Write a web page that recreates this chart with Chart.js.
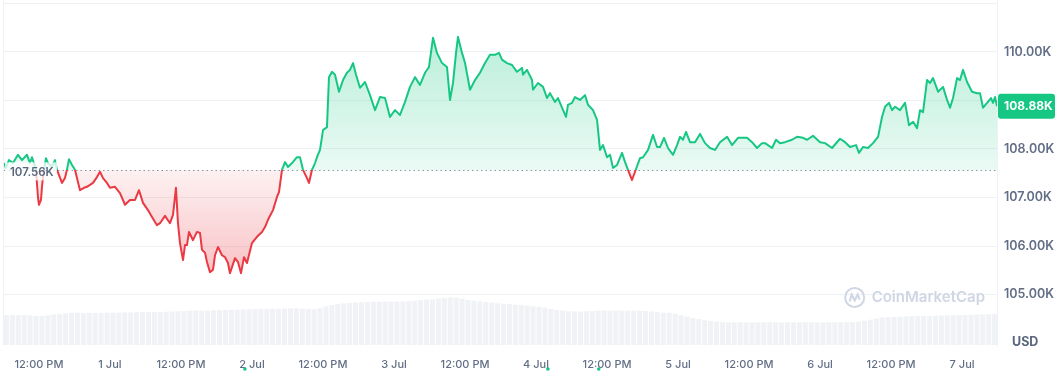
<!DOCTYPE html>
<html>
<head>
<meta charset="utf-8">
<script src="https://cdn.jsdelivr.net/npm/chart.js@4.4.1/dist/chart.umd.min.js"></script>
<style>
    html, body { margin: 0; padding: 0; background: #fff; }
    #wrap { width: 1063px; height: 387px; position: relative; }
</style>
</head>
<body>
<div id="wrap"><canvas id="priceChart"></canvas></div>
<script>
// hours counted from 1 Jul 00:00
const priceHours = [
    -17.91, -17.58, -17.07, -16.39, -15.55, -14.87, -14.03, -13.52, -13.18, -12.51,
    -12.17, -12.00, -11.66, -11.49, -11.32, -10.82, -10.48, -9.80, -9.30, -8.96,
    -8.11, -7.61, -7.27, -6.93, -6.42, -5.92, -5.07, -4.39, -3.89, -3.38,
    -2.87, -2.20, -1.69, -1.18, -0.51, 0, 0.85, 1.69, 2.54, 3.38,
    4.23, 4.90, 5.58, 6.42, 7.10, 7.94, 8.45, 9.30, 10.14, 10.65,
    11.15, 11.49, 11.83, 12.34, 12.68, 13.01, 13.35, 14.03, 14.70, 15.21,
    15.55, 16.06, 16.39, 16.90, 17.41, 17.75, 18.25, 18.93, 19.44, 19.94,
    20.28, 21.13, 21.63, 22.14, 22.65, 23.15, 24.00, 24.84, 25.69, 26.20,
    26.70, 27.55, 28.22, 28.56, 29.07, 29.58, 30.08, 30.76, 31.60, 32.11,
    32.62, 33.29, 33.63, 34.14, 34.65, 34.98, 35.49, 36.00, 36.67, 37.01,
    37.52, 38.03, 38.70, 39.38, 40.05, 40.56, 41.07, 41.58, 42.25, 43.10,
    43.94, 44.79, 45.63, 46.48, 47.32, 48.17, 49.01, 49.86, 50.70, 51.55,
    52.39, 53.24, 53.91, 54.59, 55.26, 56.11, 56.95, 57.46, 57.97, 58.48,
    58.81, 59.49, 60.00, 60.84, 61.69, 62.53, 63.38, 64.22, 65.07, 65.74,
    66.25, 67.09, 67.94, 68.78, 69.63, 69.80, 70.47, 71.32, 71.49, 72.33,
    73.18, 73.85, 74.36, 75.21, 75.71, 76.39, 77.07, 77.40, 78.08, 78.59,
    79.43, 80.28, 80.78, 81.63, 82.31, 82.81, 83.32, 84.00, 84.50, 85.01,
    85.69, 86.53, 87.04, 87.54, 88.22, 88.73, 89.57, 90.08, 90.93, 91.77,
    92.45, 92.95, 93.63, 94.30, 95.15, 95.83, 96.33, 96.84, 97.35, 98.02,
    98.87, 99.71, 100.56, 101.40, 102.25, 103.09, 104.28, 105.12, 106.13, 107.66,
    108.50, 109.35, 110.19, 110.70, 111.88, 112.56, 113.23, 114.08, 115.26, 116.11,
    117.12, 117.80, 118.81, 120.00, 120.84, 122.02, 123.37, 124.22, 125.06, 126.08,
    126.58, 127.26, 128.10, 128.95, 129.80, 130.47, 130.98, 131.65, 132.16, 132.67,
    133.51, 134.36, 135.03, 135.71, 136.39, 136.89, 137.40, 138.08, 138.58, 139.09,
    139.94, 140.78, 141.46, 141.96, 142.47, 143.15, 143.65, 144.16, 144.84, 145.68,
    146.53, 147.03, 147.54, 148.22, 148.89, 149.23, 149.57, 149.90
];

// BTC price, thousands of USD
const prices = [
    107.71, 107.61, 107.77, 107.71, 107.88, 107.77, 107.88, 107.71, 107.83, 107.57,
    107.01, 106.85, 106.95, 107.22, 107.42, 107.81, 107.71, 107.63, 107.77, 107.57,
    107.30, 107.40, 107.57, 107.79, 107.67, 107.57, 107.15, 107.20, 107.22, 107.26,
    107.30, 107.42, 107.53, 107.40, 107.30, 107.20, 107.22, 107.09, 106.85, 106.95,
    106.95, 107.15, 106.89, 106.74, 106.60, 106.43, 106.47, 106.62, 106.47, 106.64,
    107.20, 106.47, 106.06, 105.71, 106.02, 106.02, 106.29, 106.12, 106.29, 106.27,
    105.92, 105.86, 105.67, 105.46, 105.51, 105.81, 105.98, 105.81, 105.77, 105.65,
    105.44, 105.75, 105.67, 105.44, 105.77, 105.65, 106.06, 106.19, 106.29, 106.39,
    106.54, 106.74, 107.01, 107.11, 107.57, 107.73, 107.63, 107.71, 107.83, 107.83,
    107.57, 107.40, 107.30, 107.57, 107.71, 107.83, 107.98, 108.39, 108.45, 109.48,
    109.59, 109.53, 109.18, 109.42, 109.57, 109.63, 109.77, 109.53, 109.26, 109.38,
    109.11, 108.80, 109.07, 109.05, 108.66, 108.80, 108.70, 108.97, 109.28, 109.48,
    109.32, 109.57, 109.69, 110.29, 109.98, 109.77, 109.69, 109.01, 109.36, 109.98,
    110.31, 109.98, 109.77, 109.22, 109.42, 109.57, 109.77, 109.94, 109.94, 109.98,
    109.84, 109.77, 109.73, 109.59, 109.67, 109.53, 109.63, 109.42, 109.22, 109.36,
    109.28, 109.05, 109.15, 108.97, 109.05, 108.85, 108.66, 108.91, 108.95, 109.07,
    109.01, 109.11, 108.91, 108.80, 108.60, 107.98, 108.08, 107.83, 107.88, 107.61,
    107.67, 107.92, 107.73, 107.57, 107.36, 107.53, 107.81, 107.83, 107.98, 108.29,
    108.04, 108.04, 108.23, 108.02, 107.88, 108.08, 108.25, 108.19, 108.35, 108.14,
    108.14, 108.31, 108.12, 108.02, 107.98, 108.14, 108.25, 108.08, 108.23, 108.23,
    108.14, 108.02, 108.12, 108.12, 108.02, 108.19, 108.12, 108.14, 108.19, 108.25,
    108.23, 108.19, 108.27, 108.14, 108.12, 108.02, 108.21, 108.14, 108.04, 108.08,
    107.92, 108.04, 108.02, 108.12, 108.25, 108.66, 108.87, 108.95, 108.80, 108.87,
    108.80, 108.95, 108.49, 108.56, 108.43, 108.80, 108.76, 109.42, 109.36, 109.46,
    109.18, 109.28, 109.01, 108.85, 109.05, 109.46, 109.42, 109.63, 109.38, 109.18,
    109.15, 109.15, 108.85, 108.95, 109.05, 108.95, 109.07, 108.88
];

const openPrice = 107.56;

// hourly volume bars (billions USD), first bar at -17.5 h
const volumeStartHour = -17.5;
const volumes = [
    20.9, 21.0, 20.8, 20.9, 20.6, 20.3, 20.2, 20.6, 21.2, 21.5,
    22.0, 22.4, 22.5, 22.3, 22.4, 22.3, 22.4, 22.5, 22.6, 22.5,
    22.7, 22.6, 22.8, 22.9, 23.0, 22.9, 23.0, 23.2, 23.4, 23.5,
    23.6, 23.8, 23.9, 23.8, 24.0, 24.1, 24.2, 24.3, 24.4, 24.5,
    24.7, 24.8, 25.0, 24.9, 25.1, 25.2, 25.3, 25.4, 25.5, 25.5,
    25.3, 24.9, 24.8, 25.6, 26.8, 27.8, 28.4, 29.0, 29.3, 29.6,
    29.8, 30.0, 30.1, 30.1, 30.2, 30.1, 30.2, 30.3, 30.5, 30.8,
    31.2, 31.6, 31.8, 32.3, 32.8, 33.2, 32.9, 32.2, 31.3, 30.8,
    30.3, 29.9, 29.5, 29.0, 28.7, 28.4, 28.0, 27.8, 27.4, 27.0,
    26.6, 26.0, 25.1, 24.3, 23.9, 23.5, 23.3, 23.2, 23.5, 23.7,
    23.9, 24.0, 23.9, 24.0, 23.9, 23.9, 23.8, 23.9, 23.7, 23.4,
    23.0, 22.6, 22.4, 21.8, 20.8, 19.8, 18.9, 18.0, 17.2, 16.6,
    16.2, 15.9, 15.8, 15.8, 15.8, 15.8, 15.7, 15.8, 15.8, 15.9,
    15.8, 15.7, 15.8, 15.8, 15.8, 15.9, 15.8, 15.8, 15.7, 15.8,
    15.8, 15.9, 15.8, 16.0, 16.2, 16.9, 17.6, 18.4, 19.1, 19.3,
    19.5, 19.7, 19.9, 20.0, 20.1, 20.2, 20.2, 20.3, 20.5, 20.6,
    20.7, 20.9, 20.9, 21.0, 21.2, 21.3, 21.4, 21.5, 21.6
];

const xTickHours = [-12, 0, 12, 24, 36, 48, 60, 72, 84, 96, 108, 120, 132, 144];
const xTickLabels = ['12:00 PM', '1 Jul', '12:00 PM', '2 Jul', '12:00 PM', '3 Jul', '12:00 PM',
    '4 Jul', '12:00 PM', '5 Jul', '12:00 PM', '6 Jul', '12:00 PM', '7 Jul'];
const yTicks = [105, 106, 107, 108, 109, 110, 111];

// small markers under the time axis
const eventHours = [22.8, 74.0, 82.6];

const GREEN = '#16c784';
const RED = '#ea3943';
const TEXT = '#616e85';

Chart.defaults.font.family = "Inter, 'Noto Sans', sans-serif";

const decor = {
    id: 'decor',
    afterLayout(chart) {
        const { ctx, chartArea: a, scales: { y } } = chart;
        const yb = y.getPixelForValue(openPrice);
        const f = (yb - a.top) / (a.bottom - a.top);

        const line = ctx.createLinearGradient(0, a.top, 0, a.bottom);
        line.addColorStop(0, GREEN);
        line.addColorStop(f, GREEN);
        line.addColorStop(f, RED);
        line.addColorStop(1, RED);

        const up = ctx.createLinearGradient(0, y.getPixelForValue(110.4), 0, yb);
        up.addColorStop(0, 'rgba(22,199,132,0.30)');
        up.addColorStop(1, 'rgba(22,199,132,0.09)');

        const down = ctx.createLinearGradient(0, yb, 0, y.getPixelForValue(105.3));
        down.addColorStop(0, 'rgba(234,57,67,0.07)');
        down.addColorStop(1, 'rgba(234,57,67,0.32)');

        const ds = chart.data.datasets[0];
        ds.borderColor = line;
        ds.fill = { target: { value: openPrice }, above: up, below: down };
    },
    beforeDatasetsDraw(chart) {
        const { ctx, chartArea: a, scales: { y } } = chart;
        ctx.save();
        // left frame line
        ctx.strokeStyle = '#eff2f5';
        ctx.lineWidth = 1;
        ctx.beginPath();
        ctx.moveTo(a.left - 0.5, a.top);
        ctx.lineTo(a.left - 0.5, a.bottom);
        ctx.stroke();

        // watermark
        ctx.fillStyle = '#cfd6e4';
        ctx.strokeStyle = '#cfd6e4';
        ctx.font = "600 15px Inter, sans-serif";
        ctx.textAlign = 'right';
        ctx.textBaseline = 'middle';
        const wy = y.getPixelForValue(105) + 3;
        const tx = a.right - 12;
        ctx.fillText('CoinMarketCap', tx, wy);
        const tw = ctx.measureText('CoinMarketCap').width;
        const cx = tx - tw - 17;
        ctx.lineWidth = 2;
        ctx.beginPath();
        ctx.arc(cx, wy, 9.5, 0, Math.PI * 2);
        ctx.stroke();
        ctx.beginPath();
        ctx.moveTo(cx - 5, wy + 4);
        ctx.lineTo(cx - 3, wy - 3);
        ctx.lineTo(cx, wy + 3);
        ctx.lineTo(cx + 3, wy - 3);
        ctx.lineTo(cx + 5, wy + 2);
        ctx.stroke();

        // dotted open-price line
        const yb = Math.round(y.getPixelForValue(openPrice)) + 0.5;
        ctx.strokeStyle = '#8d97aa';
        ctx.lineWidth = 1;
        ctx.setLineDash([1.5, 3]);
        ctx.beginPath();
        ctx.moveTo(a.left, yb);
        ctx.lineTo(a.right, yb);
        ctx.stroke();
        ctx.restore();
    },
    afterDatasetsDraw(chart) {
        const { ctx, chartArea: a, scales: { y } } = chart;
        const yb = y.getPixelForValue(openPrice);
        ctx.save();
        ctx.fillStyle = 'rgba(255,255,255,0.75)';
        ctx.fillRect(a.left + 1, yb - 8, 52, 18);
        ctx.fillStyle = '#58667e';
        ctx.font = "600 11.5px Inter, sans-serif";
        ctx.textAlign = 'left';
        ctx.textBaseline = 'middle';
        ctx.fillText(openPrice.toFixed(2) + 'K', a.left + 6, yb + 2);
        ctx.restore();
    },
    afterDraw(chart) {
        const { ctx, chartArea: a, scales: { x, y } } = chart;
        const last = prices[prices.length - 1];
        const ly = y.getPixelForValue(last);
        ctx.save();
        // last price badge
        ctx.fillStyle = GREEN;
        ctx.beginPath();
        ctx.roundRect(a.right + 1, ly - 12.5, 57, 25, 3);
        ctx.fill();
        ctx.fillStyle = '#fff';
        ctx.font = "700 12px Inter, sans-serif";
        ctx.textAlign = 'left';
        ctx.textBaseline = 'middle';
        ctx.fillText(last.toFixed(2) + 'K', a.right + 7, ly);

        // currency label
        ctx.fillStyle = '#58667e';
        ctx.font = "700 12.5px Inter, sans-serif";
        ctx.fillText('USD', a.right + 15, a.bottom - 3);

        // event markers
        ctx.fillStyle = GREEN;
        eventHours.forEach(h => {
            ctx.beginPath();
            ctx.arc(x.getPixelForValue(h), a.bottom + 24, 1.8, 0, Math.PI * 2);
            ctx.fill();
        });
        ctx.restore();
    }
};

new Chart(document.getElementById('priceChart'), {
    type: 'line',
    data: {
        datasets: [
            {
                type: 'line',
                data: priceHours.map((h, i) => ({ x: h, y: prices[i] })),
                yAxisID: 'y',
                borderColor: GREEN,
                borderWidth: 2,
                borderJoinStyle: 'round',
                pointRadius: 0,
                tension: 0,
                fill: { target: { value: openPrice }, above: 'rgba(22,199,132,0.15)', below: 'rgba(234,57,67,0.15)' },
                order: 1
            },
            {
                type: 'bar',
                data: volumes.map((v, i) => ({ x: volumeStartHour + i, y: v })),
                yAxisID: 'y2',
                backgroundColor: '#f0f2f5',
                barPercentage: 0.85,
                categoryPercentage: 1,
                order: 2
            }
        ]
    },
    options: {
        responsive: true,
        maintainAspectRatio: false,
        animation: false,
        events: [],
        layout: { padding: { left: 4, top: 0, right: 0, bottom: 0 } },
        plugins: { legend: { display: false }, tooltip: { enabled: false } },
        scales: {
            x: {
                type: 'linear',
                offset: false,
                min: priceHours[0],
                max: priceHours[priceHours.length - 1],
                afterBuildTicks: s => { s.ticks = xTickHours.map(v => ({ value: v })); },
                afterFit: s => { s.height = 42; s.paddingLeft = 0; s.paddingRight = 0; },
                grid: { display: false, offset: false },
                border: { display: false },
                ticks: {
                    autoSkip: false,
                    maxRotation: 0,
                    padding: 5,
                    color: TEXT,
                    font: { size: 11, weight: 500 },
                    callback: (v, i) => xTickLabels[i]
                }
            },
            y: {
                position: 'right',
                min: 103.96,
                max: 111.07,
                afterBuildTicks: s => { s.ticks = yTicks.map(v => ({ value: v })); },
                afterFit: s => { s.width = 66; s.paddingTop = 0; s.paddingBottom = 0; },
                grid: { color: '#eff2f5', drawTicks: false },
                border: { display: true, color: '#eff2f5' },
                ticks: {
                    padding: 7,
                    color: TEXT,
                    font: { size: 12.5, weight: 600 },
                    callback: v => v === 111 ? '' : v.toFixed(2) + 'K'
                }
            },
            y2: { display: false, min: 0, max: 240 }
        }
    },
    plugins: [decor]
});
</script>
</body>
</html>
